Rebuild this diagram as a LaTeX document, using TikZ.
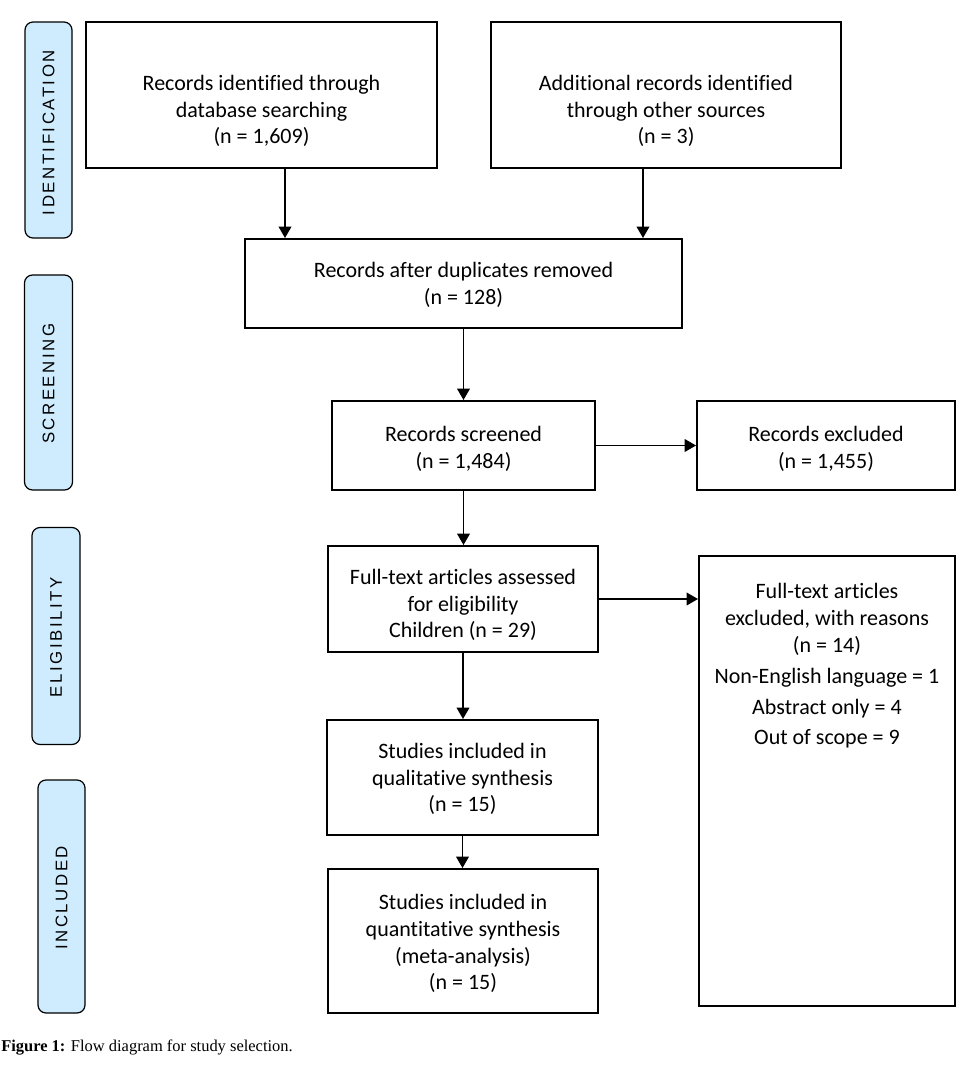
\documentclass[tikz,border=0pt]{standalone}
\usepackage{fontspec}
\setmainfont{Carlito}[Ligatures=NoCommon]
\newfontfamily\capfont{Liberation Serif}
\newfontfamily\sidefont[LetterSpace=15]{Liberation Sans}
\usetikzlibrary{arrows.meta}
\definecolor{sideblue}{RGB}{206,236,253}
\begin{document}
\begin{tikzpicture}[x=0.75pt,y=-0.75pt,
  box/.style={draw, line width=1.5pt, inner sep=0pt},
  sz/.style 2 args={minimum width=#1*0.75pt, minimum height=#2*0.75pt},
  txt/.style={align=center, inner sep=0pt, font=\fontsize{16.5}{20.1}\selectfont},
  side/.style={draw, line width=0.9pt, fill=sideblue, rounded corners=6pt, inner sep=0pt},
  sidetxt/.style={rotate=90, inner sep=0pt, font=\sidefont\fontsize{12.6}{14}\selectfont},
  arr/.style={-{Triangle[width=9.5pt,length=8.5pt]}, line width=1.1pt},
  captxt/.style={inner sep=0pt, font=\capfont\fontsize{12.35}{14}\selectfont}]
\useasboundingbox (0,0) rectangle (978,1075);

% side labels
\node[side, sz={47}{216}] (s1) at (48.5,130) {};
\node[sidetxt] (s1t) at ([yshift=-2pt]s1.center) {IDENTIFICATION};
\node[side, sz={48}{215}] (s2) at (48.5,382.5) {};
\node[sidetxt] (s2t) at ([yshift=-1pt]s2.center) {SCREENING};
\node[side, sz={48}{217}] (s3) at (56,636) {};
\node[sidetxt] (s3t) at ([yshift=-1pt]s3.center) {ELIGIBILITY};
\node[side, sz={47}{233}] (s4) at (61.5,896.5) {};
\node[sidetxt] (s4t) at ([yshift=-1pt]s4.center) {INCLUDED};

% boxes
\node[box, sz={351}{146}] (b1) at (261.5,95) {};
\node[txt] (t1) at (261.5,111) {Records identified through\\database searching\\(n = 1,609)};
\node[box, sz={350}{146}] (b2) at (666,95) {};
\node[txt] (t2) at (666,111) {Additional records identified\\through other sources\\(n = 3)};
\node[box, sz={437}{89}] (b3) at (463.5,283.5) {};
\node[txt] (t3) at (463.5,285) {Records after duplicates removed\\(n = 128)};
\node[box, sz={263}{89}] (b4) at (463.5,445.5) {};
\node[txt] (t4) at (463.5,448.5) {Records screened\\(n = 1,484)};
\node[box, sz={258}{89}] (b5) at (826,445.5) {};
\node[txt] (t5) at (826,448.5) {Records excluded\\(n = 1,455)};
\node[box, sz={270}{106}] (b6) at (463,599) {};
\node[txt] (t6) at (463,605) {Full-text articles assessed\\for eligibility\\Children (n = 29)};
\node[box, sz={256}{450}] (b7) at (827,781) {};
\node[txt] (t7) at (827,666) {Full-text articles\\excluded, with reasons\\(n = 14)\\[3.05pt]Non-English language = 1\\[3.35pt]Abstract only = 4\\[2.6pt]Out of scope = 9};
\node[box, sz={271}{115}] (b8) at (462.5,777.5) {};
\node[txt] (t8) at (462.5,779) {Studies included in\\qualitative synthesis\\(n = 15)};
\node[box, sz={270}{144}] (b9) at (463,941) {};
\node[txt] (t9) at (463,943.5) {Studies included in\\quantitative synthesis\\(meta-analysis)\\(n = 15)};

% caption
\node[captxt, anchor=base west] (cap) at (1,1051) {\textbf{Figure 1:} Flow diagram for study selection.};

% connectors
\coordinate (c1) at (285,0);
\coordinate (c2) at (643,0);
\draw[arr] (b1.south -| c1) -- (b3.north -| c1);
\draw[arr] (b2.south -| c2) -- (b3.north -| c2);
\draw[arr] (b3.south -| b4.north) -- (b4.north);
\draw[arr] (b4.east) -- (b4.east -| b5.west);
\draw[arr] (b4.south) -- (b4.south |- b6.north);
\draw[arr] (b6.east) -- (b6.east -| b7.west);
\draw[arr] (b6.south) -- (b6.south |- b8.north);
\draw[arr] (b8.south) -- (b8.south |- b9.north);
\end{tikzpicture}
\end{document}
